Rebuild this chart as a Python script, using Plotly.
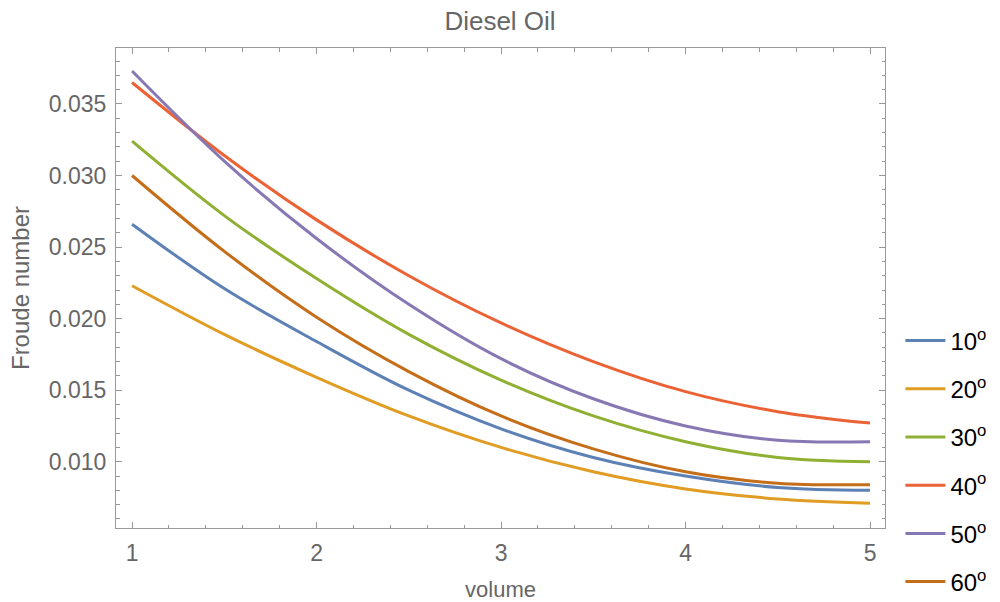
import plotly.graph_objects as go

volume = [1.0, 1.5, 2.0, 2.5, 3.0, 3.5, 4.0, 4.5, 5.0]

angle_labels = ["10<sup>o</sup>", "20<sup>o</sup>", "30<sup>o</sup>",
                "40<sup>o</sup>", "50<sup>o</sup>", "60<sup>o</sup>"]

froude_10 = [0.0266, 0.0221, 0.0184, 0.0150, 0.0123, 0.0103, 0.0090, 0.0082, 0.0080]
froude_20 = [0.0223, 0.0189, 0.0159, 0.0132, 0.0110, 0.0093, 0.0081, 0.0074, 0.0071]
froude_30 = [0.0324, 0.0272, 0.0228, 0.0189, 0.0157, 0.0132, 0.0114, 0.0103, 0.0100]
froude_40 = [0.0365, 0.0314, 0.0269, 0.0230, 0.0197, 0.0170, 0.0149, 0.0135, 0.0127]
froude_50 = [0.0373, 0.0310, 0.0256, 0.0210, 0.0172, 0.0144, 0.0125, 0.0115, 0.0114]
froude_60 = [0.0300, 0.0247, 0.0201, 0.0163, 0.0132, 0.0109, 0.0093, 0.0085, 0.0084]

series = [froude_10, froude_20, froude_30, froude_40, froude_50, froude_60]
colors = ["#5E81B5", "#E19C24", "#8FB032", "#EB6235", "#8778B3", "#C56E1A"]

FONT = "Liberation Sans, Arial, sans-serif"
GRAY = "#666666"
FRAME = "#999999"

fig = go.Figure()
for i, (vals, lab, col) in enumerate(zip(series, angle_labels, colors)):
    fig.add_trace(go.Scatter(
        x=volume, y=vals, mode="lines", name=lab,
        legendgroup=f"g{i}",
        line=dict(color=col, width=3, shape="spline", smoothing=1.0),
    ))

axis_common = dict(
    showline=True, linecolor=FRAME, linewidth=1, mirror="ticks",
    ticks="inside", ticklen=6, tickwidth=1, tickcolor=FRAME,
    showgrid=False, zeroline=False, ticklabelstandoff=4,
    tickfont=dict(family=FONT, size=23, color=GRAY),
)

fig.update_layout(
    width=1000, height=602,
    margin=dict(l=116, r=115, t=48, b=74, autoexpand=False),
    paper_bgcolor="white", plot_bgcolor="white",
    title=dict(text="Diesel Oil", x=0.5, xanchor="center", y=0.965, yanchor="middle",
               font=dict(family=FONT, size=26, color=GRAY)),
    xaxis=dict(range=[0.913, 5.081], tick0=1, dtick=1,
               minor=dict(tick0=1, dtick=0.2, ticks="inside", ticklen=3.5, tickcolor=FRAME),
               title=dict(text="volume", font=dict(family=FONT, size=22, color=GRAY), standoff=20),
               **axis_common),
    yaxis=dict(range=[0.00537, 0.03891], tick0=0, dtick=0.005, tickformat=".3f",
               minor=dict(tick0=0, dtick=0.001, ticks="inside", ticklen=3.5, tickcolor=FRAME),
               title=dict(text="Froude number", font=dict(family=FONT, size=24, color=GRAY), standoff=12),
               **axis_common),
    legend=dict(x=1.02, xanchor="left", y=0.4365, yanchor="top",
                font=dict(family=FONT, size=24, color="black"),
                itemwidth=40,
                tracegroupgap=14, bgcolor="rgba(0,0,0,0)"),
    showlegend=True,
)

fig.write_html("out.html")
